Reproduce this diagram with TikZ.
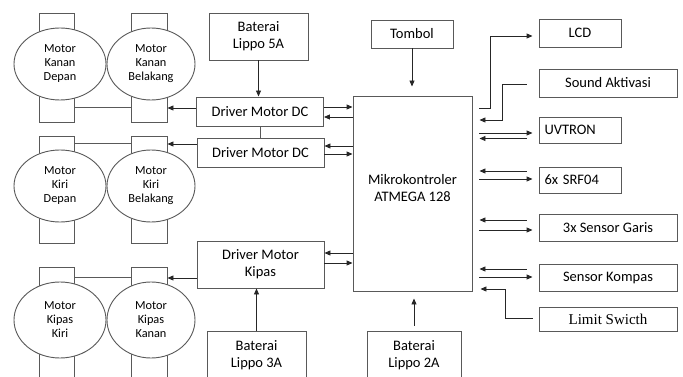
\documentclass[tikz,border=0pt]{standalone}
\usepackage{fontspec}
\setmainfont{Carlito}
\newfontfamily\timesf{Liberation Serif}
\usetikzlibrary{arrows.meta,shapes.geometric}
\begin{document}
\begin{tikzpicture}[x=1pt,y=-1pt,
  box/.style={draw=black!65, line width=0.9pt, fill=white, inner sep=0pt, align=center, font=\fontsize{14.5}{17}\selectfont},
  motrect/.style={draw=black!65, line width=0.9pt, inner sep=0pt},
  motell/.style={ellipse, draw=black!65, line width=0.9pt, fill=white, inner sep=0pt, align=center, font=\fontsize{12.3}{14}\selectfont},
  arr/.style={line width=0.9pt, draw=black!85, -{Triangle[length=6pt,width=5pt]}},
  ln/.style={line width=0.9pt, draw=black!65}]
\useasboundingbox (0,0) rectangle (683,377);

% motors row 1
\node[motrect, minimum width=35pt, minimum height=109pt] (m1r) at (56.5,67.5) {};
\node[motrect, minimum width=36pt, minimum height=109pt] (m2r) at (149,67.5) {};
\node[motell, minimum width=92pt, minimum height=72pt] (m1) at (60,64) {Motor\\Kanan\\Depan};
\node[motell, minimum width=88pt, minimum height=72pt] (m2) at (151,64) {Motor\\Kanan\\Belakang};
% motors row 2
\node[motrect, minimum width=35pt, minimum height=107pt] (m3r) at (56.5,189.5) {};
\node[motrect, minimum width=36pt, minimum height=107pt] (m4r) at (149,189.5) {};
\node[motell, minimum width=92pt, minimum height=72pt] (m3) at (60,186) {Motor\\Kiri\\Depan};
\node[motell, minimum width=88pt, minimum height=72pt] (m4) at (151,186) {Motor\\Kiri\\Belakang};
% motors row 3
\node[motrect, minimum width=35pt, minimum height=113pt] (m5r) at (56.5,323.5) {};
\node[motrect, minimum width=36pt, minimum height=113pt] (m6r) at (149,323.5) {};
\node[motell, minimum width=92pt, minimum height=76pt] (m5) at (60,320) {Motor\\Kipas\\Kiri};
\node[motell, minimum width=88pt, minimum height=76pt] (m6) at (151,320) {Motor\\Kipas\\Kanan};

% drivers and batteries
\node[box, minimum width=99pt, minimum height=47pt] (b5) at (258.5,36.5) {Baterai\\Lippo 5A};
\node[box, minimum width=127pt, minimum height=29pt] (d1) at (260,111.5) {Driver Motor DC};
\node[box, minimum width=127pt, minimum height=29pt] (d2) at (260.5,152.5) {Driver Motor DC};
\node[box, minimum width=127pt, minimum height=47pt] (dk) at (260.5,264.5) {Driver Motor\\Kipas};
\node[box, minimum width=99pt, minimum height=49pt] (b3) at (256.5,355.5) {Baterai\\Lippo 3A};

% MCU
\node[box, minimum width=119pt, minimum height=195pt] (mcu) at (412.5,193.5) {};
\node[font=\fontsize{14.5}{17}\selectfont, align=center, inner sep=0pt] (mcut) at (412.5,188) {Mikrokontroler\\ATMEGA 128};
\node[box, minimum width=82pt, minimum height=28pt] (tb) at (412,34) {Tombol};
\node[box, minimum width=94pt, minimum height=49pt] (b2) at (414,355.5) {Baterai\\Lippo 2A};

% right side
\node[box, minimum width=82pt, minimum height=28pt] (lcd) at (580,33) {LCD};
\node[box, minimum width=138pt, minimum height=28pt] (snd) at (608,83) {Sound Aktivasi};
\node[box, minimum width=82pt, minimum height=26pt, text width=71pt, align=left] (uv) at (580,130) {UVTRON};
\node[box, minimum width=82pt, minimum height=26pt, text width=71pt, align=left] (srf) at (580,180) {6x SRF04};
\node[box, minimum width=138pt, minimum height=27pt] (sg) at (608,227.5) {3x Sensor Garis};
\node[box, minimum width=138pt, minimum height=27pt] (sk) at (608,277.5) {Sensor Kompas};
\node[box, minimum width=138pt, minimum height=24pt, font=\timesf\fontsize{15}{17}\selectfont] (ls) at (608,319) {Limit Swicth};

% motor links
\draw[ln] ([yshift=-39.5pt]m1r.east) -- ([yshift=-39.5pt]m2r.west);
\draw[arr] ([yshift=3.5pt]d1.west) -- ([yshift=3.5pt]d1.west -| m2r.east);
\draw[ln] ([yshift=46.5pt]m3r.east) -- ([yshift=46.5pt]m4r.west);
\draw[arr] ([yshift=8.5pt]d2.west) -- ([yshift=8.5pt]d2.west -| m4r.east);
\draw[ln] ([yshift=46.5pt]m5r.east) -- ([yshift=46.5pt]m6r.west);
\draw[arr] ([yshift=-13.5pt]dk.west) -- ([yshift=-13.5pt]dk.west -| m6r.east);

% batteries / drivers
\draw[arr] (b5.south) -- (b5.south |- d1.north);
\draw[ln] (d1.south) -- (d1.south |- d2.north);
\draw[arr] (b3.north) -- (b3.north |- dk.south);

% drivers <-> mcu
\draw[arr] ([yshift=4.5pt]d1.east) -- ([yshift=4.5pt]d1.east -| mcu.west);
\draw[arr] ([yshift=-5.5pt]d1.east -| mcu.west) -- ([yshift=-5.5pt]d1.east);
\draw[arr] ([yshift=6.5pt]d2.east -| mcu.west) -- ([yshift=6.5pt]d2.east);
\draw[arr] ([yshift=-1.5pt]d2.east) -- ([yshift=-1.5pt]d2.east -| mcu.west);
\draw[arr] ([yshift=11.5pt]dk.east -| mcu.west) -- ([yshift=11.5pt]dk.east);
\draw[arr] ([yshift=1.5pt]dk.east) -- ([yshift=1.5pt]dk.east -| mcu.west);

% tombol, battery 2A
\draw[arr, shorten >=9pt] (tb.south) -- (tb.south |- mcu.north);
\draw[arr, shorten >=7pt, shorten <=5pt] (b2.north) -- (b2.north |- mcu.south);

% right side links
\draw[arr] ([xshift=7pt,yshift=85.5pt]mcu.east) -- ++(11,0) |- ([xshift=-6pt,yshift=-3pt]lcd.west);
\draw[arr] ([xshift=-12pt,yshift=-1pt]snd.west) -- ++(-24,0) |- ([xshift=7pt,yshift=73.5pt]mcu.east);
\draw[arr] ([xshift=7pt,yshift=-3pt]mcu.east |- uv.west) -- ([xshift=-6pt,yshift=-3pt]uv.west);
\draw[arr] ([xshift=-12pt,yshift=-8.5pt]uv.west) -- ([xshift=7pt,yshift=-8.5pt]mcu.east |- uv.west);
\draw[arr] ([xshift=-12pt,yshift=9pt]srf.west) -- ([xshift=7pt,yshift=9pt]mcu.east |- srf.west);
\draw[arr] ([xshift=7pt,yshift=1pt]mcu.east |- srf.west) -- ([xshift=-6pt,yshift=1pt]srf.west);
\draw[arr] ([xshift=-12pt,yshift=7.5pt]sg.west) -- ([xshift=7pt,yshift=7.5pt]mcu.east |- sg.west);
\draw[arr] ([xshift=7pt,yshift=-2.5pt]mcu.east |- sg.west) -- ([xshift=-6pt,yshift=-2.5pt]sg.west);
\draw[arr] ([xshift=-12pt,yshift=8.5pt]sk.west) -- ([xshift=7pt,yshift=8.5pt]mcu.east |- sk.west);
\draw[arr] ([xshift=7pt,yshift=0.5pt]mcu.east |- sk.west) -- ([xshift=-6pt,yshift=0.5pt]sk.west);
\draw[arr] ([xshift=-6pt,yshift=1pt]ls.west) -- ++(-27,0) |- ([xshift=8pt,yshift=-95.5pt]mcu.east);
\end{tikzpicture}
\end{document}
